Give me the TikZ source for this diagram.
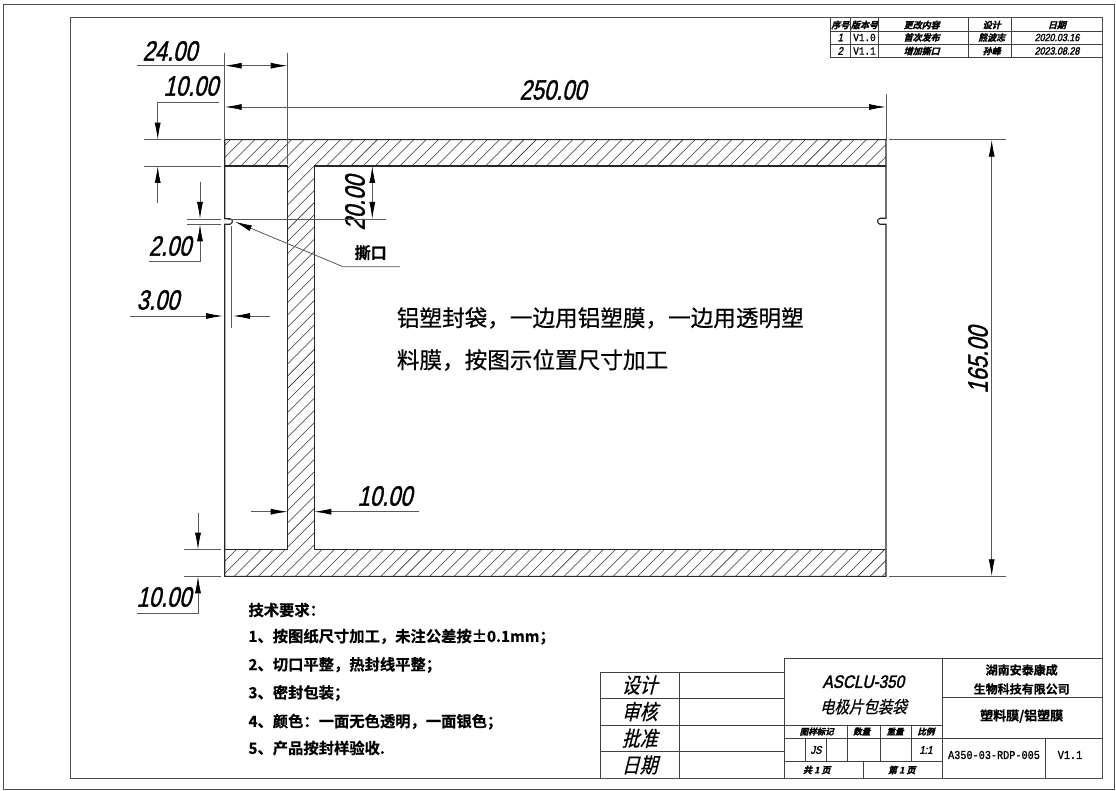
\documentclass[tikz,border=0pt]{standalone}
\usepackage{fontspec}
\usetikzlibrary{arrows.meta}
\newfontfamily\dimf[FakeStretch=.78,FakeSlant=.22,FakeBold=1.2]{Liberation Sans}
\newfontfamily\smf[FakeStretch=.85,FakeSlant=.22,FakeBold=2]{Liberation Sans}
\newfontfamily\monof[FakeStretch=.85,FakeBold=1]{Liberation Mono}
\newfontfamily\cjkf[FakeBold=.6]{Noto Sans CJK SC}
\newfontfamily\cjkit[FakeSlant=.25,FakeBold=.6,FakeStretch=.85]{Noto Sans CJK SC}
\newfontfamily\cjkbf[FakeBold=.8]{Noto Sans CJK SC Bold}
\newfontfamily\cjkbit[FakeSlant=.25,FakeBold=1.5]{Noto Sans CJK SC Bold}
\newfontfamily\cjkb[FakeBold=.6]{Noto Sans CJK SC Bold}
\newcommand{\fsz}[1]{\fontsize{#1}{#1}\selectfont}
\tikzset{
  x=1pt,y=-1pt,
  outl/.style={line width=1.1pt,black!85},
  thin gray/.style={line width=.8pt,black!65},
  frm/.style={line width=1pt,black!70},
  hatchl/.style={line width=.55pt,black!80},
  dimarr/.style={thin gray,-{Latex[length=17pt,width=6pt,black]}},
  dimtxt/.style={inner sep=0pt,font=\dimf\fsz{28}},
  tb/.style={line width=1pt,black!75},
  lab/.style={inner sep=0pt},
}
\begin{document}
\begin{tikzpicture}
\useasboundingbox (0,0) rectangle (1116,791);
\fill[white] (0,0) rectangle (1116,791);
% frames
\draw[frm] (3,4.5) rectangle (1114,789);
\draw[frm] (70,18) rectangle (1102,778);
% hatching
\begin{scope}
\clip (224.7,139.7) rectangle (886,166) (287.7,166) rectangle (314.3,549.7) (224.7,549.7) rectangle (886,576.3);
\foreach \s in {-55,...,37}{
  \draw[hatchl] ({1018.3+\s*12.23},0) -- ++(-1000,1000);
}
\end{scope}
% part outline
\coordinate (TL) at (224.7,139.7);
\coordinate (TR) at (886,139.7);
\coordinate (BL) at (224.7,576.3);
\coordinate (BR) at (886,576.3);
\draw[outl] (TL) -- (TR) -- (886,218.3) -- (880,218.3) .. controls (876.8,219.5) and (876.8,223.1) .. (880,224.3) -- (886,224.3) -- (BR) -- (BL) -- (224.7,224.3) -- (230,224.3) .. controls (233.2,223.1) and (233.2,219.5) .. (230,218.8) -- (224.7,218.8) -- cycle;
\draw[outl] (224.7,166) -- (287.7,166) -- (287.7,549.7) -- (224.7,549.7);
\draw[outl] (886,166) -- (314.3,166) -- (314.3,549.7) -- (886,549.7);
% named dim points
\coordinate (e24a) at (224.7,53); \coordinate (e24b) at (287.7,53);
\draw[thin gray] (e24a) -- (TL);
\draw[thin gray] (e24b) -- (287.7,164);
\draw[thin gray] (886,94) -- (TR);
% 24.00
\node[dimtxt] (t24) at (170,51) {24.00};
\draw[thin gray] (137,65.7) -- (224.7,65.7);
\draw[dimarr] (256,65.7) -- (224.7,65.7);
\draw[dimarr] (256,65.7) -- (287.7,65.7);
% 250.00
\node[dimtxt] (t250) at (553,90) {250.00};
\draw[dimarr] (553,107) -- (224.7,107);
\draw[dimarr] (553,107) -- (886,107);
% 10.00 top
\node[dimtxt] (t10a) at (191,86) {10.00};
\draw[dimarr] (219.3,102) -- (157.7,102) -- (157.7,139.7);
\draw[thin gray] (144,139.7) -- (221,139.7);
\draw[thin gray] (144,166) -- (221,166);
\draw[dimarr] (157.7,203) -- (157.7,166);
% 20.00
\node[dimtxt,rotate=90] (t20) at (355,203) {20.00};
\draw[dimarr] (372.3,192) -- (372.3,166);
\draw[dimarr] (372.3,192) -- (372.3,219);
\draw[thin gray] (186.7,219) -- (221,219);
\draw[thin gray] (228,219) -- (386,219);
\draw[thin gray] (186.7,224.3) -- (221,224.3);
% 2.00
\node[dimtxt] (t2) at (170,246) {2.00};
\draw[dimarr] (200,181.7) -- (200,219);
\draw[dimarr] (149,261) -- (200,261) -- (200,224.3);
% 3.00
\node[dimtxt] (t3) at (158,300) {3.00};
\draw[dimarr] (130,316) -- (223,316);
\draw[dimarr] (270,316) -- (233,316);
\draw[thin gray] (231.7,226) -- (231.7,328);
% 撕口
\node[lab,font=\cjkb\fsz{16}] (ts) at (370.7,252.7) {撕口};
\coordinate (ln) at (343,266.7);
\draw[thin gray,{Latex[length=17pt,width=6pt,black]}-] (235,221.7) -- (ln) -- (400,266.7);
% 10.00 web
\node[dimtxt] (t10b) at (385,496) {10.00};
\draw[dimarr] (250.7,511.7) -- (287.7,511.7);
\draw[dimarr] (419,511.7) -- (314.3,511.7);
% 10.00 bottom
\node[dimtxt] (t10c) at (164,597) {10.00};
\draw[dimarr] (198,512.7) -- (198,549.7);
\draw[dimarr] (137,613) -- (198,613) -- (198,576.3);
\draw[thin gray] (184,549.7) -- (221,549.7);
\draw[thin gray] (184,576.3) -- (221,576.3);
% 165
\node[dimtxt,rotate=90] (t165) at (978,360) {165.00};
\draw[thin gray] (889,139.7) -- (1005.7,139.7);
\draw[thin gray] (889,576.3) -- (1005.7,576.3);
\draw[dimarr] (991.7,360) -- (991.7,139.7);
\draw[dimarr] (991.7,360) -- (991.7,576.3);
% main note
\node[lab,anchor=west,font=\cjkf\fsz{22.6}] (n1) at (396.7,318) {铝塑封袋，一边用铝塑膜，一边用透明塑};
\node[lab,anchor=west,font=\cjkf\fsz{22.6}] (n2) at (396.7,360) {料膜，按图示位置尺寸加工};
% tech req
\foreach \yy/\tx in {610/{技术要求：},636.7/{1、按图纸尺寸加工，未注公差按±0.1mm；},665/{2、切口平整，热封线平整；},693/{3、密封包装；},721.7/{4、颜色：一面无色透明，一面银色；},748/{5、产品按封样验收.}}{
  \node[lab,anchor=west,font=\cjkb\fsz{15.3}] at (248.3,\yy) {\tx};
}
% title block lines
\draw[tb] (600,672) -- (784.3,672);
\draw[tb] (600,672) -- (600,778);
\draw[tb] (679.3,672) -- (679.3,778);
\draw[tb] (600,698.3) -- (784.3,698.3);
\draw[tb] (600,725) -- (784.3,725);
\draw[tb] (600,751.7) -- (784.3,751.7);
\draw[tb] (784.3,658.7) -- (1102,658.7);
\draw[tb] (784.3,658.7) -- (784.3,778);
\draw[tb] (942.7,658.7) -- (942.7,778);
\draw[tb] (784.3,725) -- (942.7,725);
\draw[tb] (784.3,738.3) -- (1102,738.3);
\draw[tb] (784.3,761.7) -- (942.7,761.7);
\draw[tb] (942.7,697.7) -- (1102,697.7);
\draw[tb] (1045,738.3) -- (1045,778);
\foreach \xx in {847.3,880,911.7}{\draw[tb] (\xx,725) -- (\xx,761.7);}
\foreach \xx in {805,826.7}{\draw[tb] (\xx,738.3) -- (\xx,761.7);}
\draw[tb] (863.3,761.7) -- (863.3,778);
\foreach \yy/\tx in {685/设计,711.5/审核,738.3/批准,765/日期}{
  \node[lab,font=\cjkit\fsz{21}] at (639.7,\yy) {\tx};
}
\node[lab,font=\smf\fsz{18}] (p1) at (863.3,681.7) {ASCLU-350};
\node[lab,font=\cjkit\fsz{17}] (p2) at (863.3,706.7) {电极片包装袋};
\node[lab,font=\cjkb\fsz{12}] (c1) at (1021.7,670) {湖南安泰康成};
\node[lab,font=\cjkb\fsz{12}] (c2) at (1021.7,689) {生物科技有限公司};
\node[lab,font=\cjkb\fsz{13}] (c3) at (1021.7,716) {塑料膜/铝塑膜};
\node[lab,font=\monof\fsz{12}] (d1) at (994,755) {A350-03-RDP-005};
\node[lab,font=\monof\fsz{12}] (d2) at (1070,755) {V1.1};
\foreach \xx/\tx in {816.7/图样标记,861.7/数量,895/重量,926/比例}{
  \node[lab,font=\cjkbit\fsz{8.5}] at (\xx,731.5) {\tx};
}
\node[lab,font=\smf\fsz{11}] at (816,750) {JS};
\node[lab,font=\smf\fsz{11}] at (926,750) {1:1};
\node[lab,font=\cjkbit\fsz{9}] at (816.7,770) {共 1 页};
\node[lab,font=\cjkbit\fsz{9}] at (901.7,770) {第 1 页};
% revision table
\foreach \yy in {31.5,45}{\draw[tb] (830,\yy) -- (1102,\yy);}
\draw[tb] (830,58) -- (1102,58);
\foreach \xx in {830,850.7,878.3,968,1011.7}{\draw[tb] (\xx,18) -- (\xx,58);}
\foreach \xx/\tx in {840.3/序号,864.5/版本号,921.7/更改内容,991.7/设计,1057/日期}{
  \node[lab,font=\cjkbit\fsz{9}] at (\xx,25) {\tx};
}
\node[lab,font=\smf\fsz{11}] at (840.3,37.5) {1};
\node[lab,font=\monof\fsz{11}] at (864.5,37.5) {V1.0};
\node[lab,font=\cjkbit\fsz{9}] at (921.7,37.5) {首次发布};
\node[lab,font=\cjkbit\fsz{9}] at (991.7,37.5) {熊波志};
\node[lab,font=\smf\fsz{10.5}] at (1057,37.5) {2020.03.16};
\node[lab,font=\smf\fsz{11}] at (840.3,51) {2};
\node[lab,font=\monof\fsz{11}] at (864.5,51) {V1.1};
\node[lab,font=\cjkbit\fsz{9}] at (921.7,51) {增加撕口};
\node[lab,font=\cjkbit\fsz{9}] at (991.7,51) {孙峰};
\node[lab,font=\smf\fsz{10.5}] at (1057,51) {2023.08.28};
\end{tikzpicture}
\end{document}
